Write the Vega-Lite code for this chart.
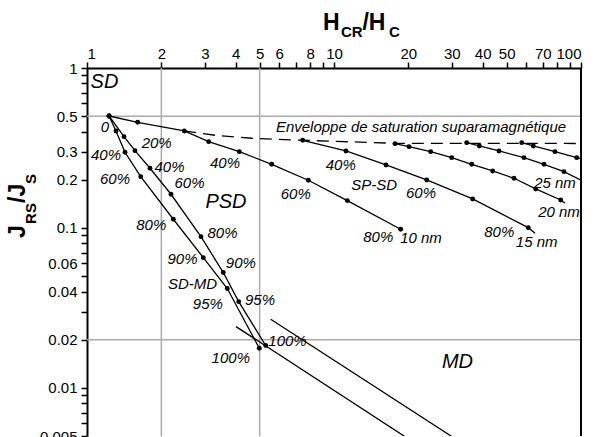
{
  "$schema": "https://vega.github.io/schema/vega-lite/v6.json",
  "width": 494,
  "height": 368,
  "autosize": {"type": "none"},
  "padding": {"left": 87, "top": 68, "right": 20, "bottom": 1},
  "background": "white",
  "config": {
    "view": {"stroke": null},
    "axis": {
      "domainColor": "black", "domainWidth": 2, "tickColor": "black", "tickWidth": 1.5, "tickSize": 6,
      "labelFont": "Liberation Sans", "labelFontSize": 15, "labelColor": "black", "grid": false, "labelOverlap": false
    }
  },
  "datasets": {
    "gridx": [{"H": 2}, {"H": 5}],
    "gridy": [{"J": 0.5}, {"J": 0.02}],
    "frame": [{"H": 100}],
    "curves": [
      {"c": "10nm", "o": 0, "H": 1.228, "J": 0.501, "dot": true},
      {"c": "10nm", "o": 1, "H": 1.604, "J": 0.4576, "dot": true},
      {"c": "10nm", "o": 2, "H": 2.477, "J": 0.4039, "dot": true},
      {"c": "10nm", "o": 3, "H": 3.109, "J": 0.3462, "dot": true},
      {"c": "10nm", "o": 4, "H": 4.136, "J": 0.2998, "dot": true},
      {"c": "10nm", "o": 5, "H": 5.595, "J": 0.25, "dot": true},
      {"c": "10nm", "o": 6, "H": 7.87, "J": 0.1987, "dot": true},
      {"c": "10nm", "o": 7, "H": 11.32, "J": 0.1482, "dot": true},
      {"c": "10nm", "o": 8, "H": 18.62, "J": 0.0981, "dot": true},
      {"c": "15nm", "o": 0, "H": 7.469, "J": 0.3533, "dot": true},
      {"c": "15nm", "o": 1, "H": 11.18, "J": 0.3029, "dot": true},
      {"c": "15nm", "o": 2, "H": 16.24, "J": 0.2475, "dot": true},
      {"c": "15nm", "o": 3, "H": 23.73, "J": 0.1995, "dot": true},
      {"c": "15nm", "o": 4, "H": 36.43, "J": 0.1518, "dot": true},
      {"c": "15nm", "o": 5, "H": 61.18, "J": 0.1004, "dot": true},
      {"c": "15nm", "o": 6, "H": 65.14, "J": 0.0927, "dot": false},
      {"c": "20nm", "o": 0, "H": 17.66, "J": 0.3364, "dot": true},
      {"c": "20nm", "o": 1, "H": 20.12, "J": 0.3222, "dot": true},
      {"c": "20nm", "o": 2, "H": 24.63, "J": 0.2998, "dot": true},
      {"c": "20nm", "o": 3, "H": 29.96, "J": 0.275, "dot": true},
      {"c": "20nm", "o": 4, "H": 36.1, "J": 0.25, "dot": true},
      {"c": "20nm", "o": 5, "H": 43.9, "J": 0.2271, "dot": true},
      {"c": "20nm", "o": 6, "H": 53.55, "J": 0.2045, "dot": true},
      {"c": "20nm", "o": 7, "H": 65.56, "J": 0.1753, "dot": true},
      {"c": "20nm", "o": 8, "H": 82.76, "J": 0.1496, "dot": true},
      {"c": "20nm", "o": 9, "H": 86.13, "J": 0.1427, "dot": false},
      {"c": "25nm", "o": 0, "H": 34.45, "J": 0.3413, "dot": true},
      {"c": "25nm", "o": 1, "H": 38.76, "J": 0.3255, "dot": true},
      {"c": "25nm", "o": 2, "H": 46.56, "J": 0.3029, "dot": true},
      {"c": "25nm", "o": 3, "H": 58.77, "J": 0.275, "dot": true},
      {"c": "25nm", "o": 4, "H": 70.83, "J": 0.25, "dot": true},
      {"c": "25nm", "o": 5, "H": 85.33, "J": 0.2248, "dot": true},
      {"c": "25nm", "o": 6, "H": 100, "J": 0.199, "dot": false},
      {"c": "30nm", "o": 0, "H": 57.54, "J": 0.3413, "dot": true},
      {"c": "30nm", "o": 1, "H": 64.12, "J": 0.3255, "dot": true},
      {"c": "30nm", "o": 2, "H": 78.47, "J": 0.2998, "dot": true},
      {"c": "30nm", "o": 3, "H": 96.07, "J": 0.275, "dot": true},
      {"c": "30nm", "o": 4, "H": 100, "J": 0.271, "dot": false},
      {"c": "sdmd1", "o": 0, "H": 1.228, "J": 0.501, "dot": true},
      {"c": "sdmd1", "o": 1, "H": 1.31, "J": 0.4039, "dot": true},
      {"c": "sdmd1", "o": 2, "H": 1.425, "J": 0.2972, "dot": true},
      {"c": "sdmd1", "o": 3, "H": 1.65, "J": 0.2092, "dot": true},
      {"c": "sdmd1", "o": 4, "H": 2.236, "J": 0.1133, "dot": true},
      {"c": "sdmd1", "o": 5, "H": 2.957, "J": 0.0652, "dot": true},
      {"c": "sdmd1", "o": 6, "H": 3.698, "J": 0.0418, "dot": true},
      {"c": "sdmd1", "o": 7, "H": 4.985, "J": 0.0177, "dot": true},
      {"c": "sdmd2", "o": 0, "H": 1.228, "J": 0.501, "dot": true},
      {"c": "sdmd2", "o": 1, "H": 1.412, "J": 0.3721, "dot": true},
      {"c": "sdmd2", "o": 2, "H": 1.564, "J": 0.3042, "dot": true},
      {"c": "sdmd2", "o": 3, "H": 1.799, "J": 0.2361, "dot": true},
      {"c": "sdmd2", "o": 4, "H": 2.188, "J": 0.1624, "dot": true},
      {"c": "sdmd2", "o": 5, "H": 2.894, "J": 0.0882, "dot": true},
      {"c": "sdmd2", "o": 6, "H": 3.563, "J": 0.0526, "dot": true},
      {"c": "sdmd2", "o": 7, "H": 4.113, "J": 0.0346, "dot": true},
      {"c": "sdmd2", "o": 8, "H": 5.29, "J": 0.0184, "dot": true},
      {"c": "md1", "o": 0, "H": 4.012, "J": 0.02415, "dot": false},
      {"c": "md1", "o": 1, "H": 31.6, "J": 0.00303, "dot": false},
      {"c": "md2", "o": 0, "H": 5.542, "J": 0.02688, "dot": false},
      {"c": "md2", "o": 1, "H": 50.1, "J": 0.00297, "dot": false}
    ],
    "envelope": [
      {"o": 0, "H": 2.477, "J": 0.4039},
      {"o": 1, "H": 3.392, "J": 0.3775},
      {"o": 2, "H": 4.656, "J": 0.3636},
      {"o": 3, "H": 7.469, "J": 0.3533},
      {"o": 4, "H": 17.66, "J": 0.3383},
      {"o": 5, "H": 100, "J": 0.3373}
    ],
    "labels": [
      {"t": "0", "k": "pct", "H": 1.183, "J": 0.4297},
      {"t": "40%", "k": "pct", "H": 1.194, "J": 0.286},
      {"t": "60%", "k": "pct", "H": 1.298, "J": 0.2015},
      {"t": "20%", "k": "pct", "H": 1.915, "J": 0.3383},
      {"t": "40%", "k": "pct", "H": 2.158, "J": 0.2416},
      {"t": "60%", "k": "pct", "H": 2.6, "J": 0.1903},
      {"t": "80%", "k": "pct", "H": 1.821, "J": 0.1044},
      {"t": "80%", "k": "pct", "H": 3.537, "J": 0.0935},
      {"t": "90%", "k": "pct", "H": 2.436, "J": 0.0637},
      {"t": "90%", "k": "pct", "H": 4.195, "J": 0.0602},
      {"t": "SD-MD", "k": "pct", "H": 2.673, "J": 0.0447},
      {"t": "95%", "k": "pct", "H": 3.084, "J": 0.0335},
      {"t": "95%", "k": "pct", "H": 5.017, "J": 0.0355},
      {"t": "100%", "k": "pct", "H": 3.821, "J": 0.01546},
      {"t": "100%", "k": "pct", "H": 6.482, "J": 0.01975},
      {"t": "40%", "k": "pct", "H": 3.62, "J": 0.2537},
      {"t": "60%", "k": "pct", "H": 7.003, "J": 0.1631},
      {"t": "80%", "k": "pct", "H": 15.11, "J": 0.0882},
      {"t": "10 nm", "k": "pct", "H": 22.5, "J": 0.0862},
      {"t": "40%", "k": "pct", "H": 10.65, "J": 0.2475},
      {"t": "SP-SD", "k": "pct", "H": 14.55, "J": 0.1857},
      {"t": "60%", "k": "pct", "H": 22.5, "J": 0.1648},
      {"t": "80%", "k": "pct", "H": 46.65, "J": 0.0948},
      {"t": "15 nm", "k": "pct", "H": 66.17, "J": 0.0821},
      {"t": "20 nm", "k": "pct", "H": 81.46, "J": 0.1264},
      {"t": "25 nm", "k": "pct", "H": 78.47, "J": 0.1903},
      {"t": "Enveloppe de saturation suparamagnétique", "k": "pct", "H": 22.5, "J": 0.4297},
      {"t": "SD", "k": "big", "H": 1.177, "J": 0.821},
      {"t": "PSD", "k": "big", "H": 3.654, "J": 0.146},
      {"t": "MD", "k": "big", "H": 31.62, "J": 0.0146}
    ],
    "titles": [
      {"t": "H", "k": "xbig", "H": 9.03, "J": 1.74},
      {"t": "CR", "k": "xsub", "H": 10.67, "J": 1.555},
      {"t": "/H", "k": "xbig", "H": 13.04, "J": 1.74},
      {"t": "C", "k": "xsub", "H": 16.7, "J": 1.555},
      {"t": "J", "k": "ybig", "H": 0.561, "J": 0.0866},
      {"t": "RS", "k": "ysub", "H": 0.6217, "J": 0.1059},
      {"t": "/J", "k": "ybig", "H": 0.561, "J": 0.1433},
      {"t": "S", "k": "ysub", "H": 0.6217, "J": 0.1884}
    ]
  },
  "layer": [
    {
      "data": {"name": "gridx"},
      "mark": {"type": "rule", "color": "#aaaaaa", "strokeWidth": 1.5},
      "encoding": {
        "x": {"field": "H", "type": "quantitative", "scale": {"type": "log", "domain": [1, 100]},
          "axis": {
            "orient": "top", "title": null, "format": "~g", "labelPadding": 1,
            "values": [1, 2, 3, 4, 5, 6, 7, 8, 9, 10, 20, 30, 40, 50, 60, 70, 80, 90, 100],
            "labelExpr": "indexof([1,2,3,4,5,6,8,10,20,30,40,50,70,100], datum.value) >= 0 ? datum.label : ''"
          }
        }
      }
    },
    {
      "data": {"name": "gridy"},
      "mark": {"type": "rule", "color": "#aaaaaa", "strokeWidth": 1.5},
      "encoding": {
        "y": {"field": "J", "type": "quantitative", "scale": {"type": "log", "domain": [0.005, 1]},
          "axis": {
            "title": null, "format": "~g", "labelPadding": 4,
            "values": [1, 0.9, 0.8, 0.7, 0.6, 0.5, 0.4, 0.3, 0.2, 0.1, 0.09, 0.08, 0.07, 0.06, 0.05, 0.04, 0.03, 0.02, 0.01, 0.009, 0.008, 0.007, 0.006, 0.005],
            "labelExpr": "indexof([1,0.5,0.3,0.2,0.1,0.06,0.04,0.02,0.01,0.005], datum.value) >= 0 ? datum.label : ''"
          }
        }
      }
    },
    {
      "data": {"name": "curves"},
      "mark": {"type": "line", "color": "black", "strokeWidth": 1.3, "clip": true},
      "encoding": {
        "x": {"field": "H", "type": "quantitative", "scale": {"type": "log", "domain": [1, 100]}},
        "y": {"field": "J", "type": "quantitative", "scale": {"type": "log", "domain": [0.005, 1]}},
        "detail": {"field": "c", "type": "nominal"},
        "order": {"field": "o", "type": "quantitative"}
      }
    },
    {
      "data": {"name": "envelope"},
      "mark": {"type": "line", "color": "black", "strokeWidth": 1.3, "strokeDash": [12, 7], "clip": true},
      "encoding": {
        "x": {"field": "H", "type": "quantitative", "scale": {"type": "log", "domain": [1, 100]}},
        "y": {"field": "J", "type": "quantitative", "scale": {"type": "log", "domain": [0.005, 1]}},
        "order": {"field": "o", "type": "quantitative"}
      }
    },
    {
      "data": {"name": "curves"},
      "transform": [{"filter": "datum.dot"}],
      "mark": {"type": "circle", "color": "black", "opacity": 1, "size": 24},
      "encoding": {
        "x": {"field": "H", "type": "quantitative", "scale": {"type": "log", "domain": [1, 100]}},
        "y": {"field": "J", "type": "quantitative", "scale": {"type": "log", "domain": [0.005, 1]}}
      }
    },
    {
      "data": {"name": "labels"},
      "transform": [{"filter": "datum.k == 'pct'"}],
      "mark": {"type": "text", "font": "Liberation Sans", "fontStyle": "italic", "fontSize": 15, "color": "black", "align": "center", "baseline": "middle"},
      "encoding": {
        "x": {"field": "H", "type": "quantitative", "scale": {"type": "log", "domain": [1, 100]}},
        "y": {"field": "J", "type": "quantitative", "scale": {"type": "log", "domain": [0.005, 1]}},
        "text": {"field": "t"}
      }
    },
    {
      "data": {"name": "labels"},
      "transform": [{"filter": "datum.k == 'big'"}],
      "mark": {"type": "text", "font": "Liberation Sans", "fontStyle": "italic", "fontSize": 20, "color": "black", "align": "center", "baseline": "middle"},
      "encoding": {
        "x": {"field": "H", "type": "quantitative", "scale": {"type": "log", "domain": [1, 100]}},
        "y": {"field": "J", "type": "quantitative", "scale": {"type": "log", "domain": [0.005, 1]}},
        "text": {"field": "t"}
      }
    },
    {
      "data": {"name": "frame"},
      "mark": {"type": "rule", "color": "black", "strokeWidth": 2},
      "encoding": {
        "x": {"field": "H", "type": "quantitative", "scale": {"type": "log", "domain": [1, 100]}}
      }
    },
    {
      "data": {"name": "titles"},
      "transform": [{"filter": "datum.k == 'xbig'"}],
      "mark": {"type": "text", "font": "Liberation Sans", "fontWeight": "bold", "fontSize": 23, "color": "black", "align": "left", "baseline": "alphabetic"},
      "encoding": {
        "x": {"field": "H", "type": "quantitative", "scale": {"type": "log", "domain": [1, 100]}},
        "y": {"field": "J", "type": "quantitative", "scale": {"type": "log", "domain": [0.005, 1]}},
        "text": {"field": "t"}
      }
    },
    {
      "data": {"name": "titles"},
      "transform": [{"filter": "datum.k == 'xsub'"}],
      "mark": {"type": "text", "font": "Liberation Sans", "fontWeight": "bold", "fontSize": 15, "color": "black", "align": "left", "baseline": "alphabetic"},
      "encoding": {
        "x": {"field": "H", "type": "quantitative", "scale": {"type": "log", "domain": [1, 100]}},
        "y": {"field": "J", "type": "quantitative", "scale": {"type": "log", "domain": [0.005, 1]}},
        "text": {"field": "t"}
      }
    },
    {
      "data": {"name": "titles"},
      "transform": [{"filter": "datum.k == 'ybig'"}],
      "mark": {"type": "text", "font": "Liberation Sans", "fontWeight": "bold", "fontSize": 23, "color": "black", "align": "left", "baseline": "alphabetic", "angle": 270},
      "encoding": {
        "x": {"field": "H", "type": "quantitative", "scale": {"type": "log", "domain": [1, 100]}},
        "y": {"field": "J", "type": "quantitative", "scale": {"type": "log", "domain": [0.005, 1]}},
        "text": {"field": "t"}
      }
    },
    {
      "data": {"name": "titles"},
      "transform": [{"filter": "datum.k == 'ysub'"}],
      "mark": {"type": "text", "font": "Liberation Sans", "fontWeight": "bold", "fontSize": 15, "color": "black", "align": "left", "baseline": "alphabetic", "angle": 270},
      "encoding": {
        "x": {"field": "H", "type": "quantitative", "scale": {"type": "log", "domain": [1, 100]}},
        "y": {"field": "J", "type": "quantitative", "scale": {"type": "log", "domain": [0.005, 1]}},
        "text": {"field": "t"}
      }
    }
  ]
}
